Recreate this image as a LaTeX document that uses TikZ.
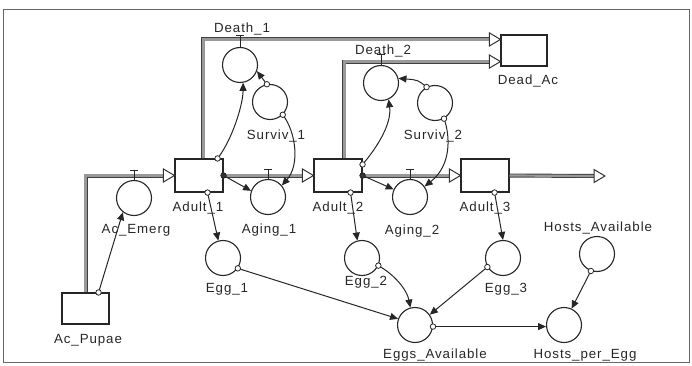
\documentclass[tikz,border=0pt]{standalone}
\usepackage{fontspec}
\setmainfont{Liberation Sans}
\usetikzlibrary{arrows.meta,calc}
\begin{document}
\begin{tikzpicture}[x=1pt,y=-1pt,
  lbl/.style={font=\fontsize{13.3}{15}\selectfont\addfontfeature{LetterSpace=7}, text=black!85, inner sep=0pt, anchor=base},
  stock/.style={draw=black!85, fill=white, line width=1.1pt, minimum width=48pt, minimum height=33pt, inner sep=0pt},
  conv/.style={circle, draw=black!85, fill=white, line width=1.1pt, minimum size=35pt, inner sep=0pt},
  pipe/.style={draw=black!75, line width=0.9pt, double=black!40, double distance=2.2pt},
  pipehead/.style={draw=black!80, line width=1pt, fill=white, line join=miter},
  info/.style={draw=black!85, line width=1pt, -{Triangle[length=8pt,width=7pt]}},
  dot/.style={circle, draw=black!85, fill=white, line width=0.8pt, inner sep=0pt, minimum size=5.5pt},
  jdot/.style={dot, fill=black!80},
  valve/.style={draw=black!85, line width=1pt},
  phead/.pic={\draw[pipehead] (0,0) -- (-11,-6.5) -- (-11,6.5) -- cycle;}
]
\useasboundingbox (0,0) rectangle (692,366);
\draw[black!60, line width=0.8pt] (3.5,9) rectangle (689,362);

% stocks
\node[stock] (adult1) at (199,175.5) {};
\node[stock] (adult2) at (338,175.5) {};
\node[stock] (adult3) at (485,175.5) {};
\node[stock, minimum width=46pt, minimum height=31pt] (dead) at (524,50.5) {};
\node[stock, minimum width=47pt, minimum height=31pt] (pupae) at (85.5,308.5) {};

% pipe end coordinates
\coordinate (deadin1) at ($(dead.north west)+(0,5)$);
\coordinate (deadin2) at ($(dead.south west)+(0,-5)$);
\coordinate (sink) at (605,176);
\coordinate (d1out) at ($(adult1.north west)+(29,0)$);
\coordinate (d2out) at ($(adult2.north west)+(31,0)$);

% pipes
\draw[pipe] (pupae.north) |- ($(adult1.west)+(-11,0)$);
\draw[pipe] (adult1.east) -- ($(adult2.west)+(-11,0)$);
\draw[pipe] (adult2.east) -- ($(adult3.west)+(-11,0)$);
\draw[pipe] (adult3.east) -- ($(sink)+(-11,0)$);
\draw[pipe] (d1out) |- ($(deadin1)+(-11,0)$);
\draw[pipe] (d2out) |- ($(deadin2)+(-11,0)$);
\pic at (adult1.west) {phead};
\pic at (adult2.west) {phead};
\pic at (adult3.west) {phead};
\pic at (sink) {phead};
\pic at (deadin1) {phead};
\pic at (deadin2) {phead};

% converters / flows
\node[conv] (death1) at (240,65) {};
\node[conv] (surviv1) at (270,102) {};
\node[conv] (death2) at (381,83) {};
\node[conv] (surviv2) at (435,103) {};
\node[conv] (emerg) at (134,198) {};
\node[conv] (aging1) at (268,197) {};
\node[conv] (aging2) at (410,197) {};
\node[conv] (egg1) at (223,258) {};
\node[conv] (egg2) at (362,258) {};
\node[conv] (egg3) at (503,258) {};
\node[conv] (hostsav) at (597,254) {};
\node[conv] (eggsav) at (415,325) {};
\node[conv] (hpe) at (564,325) {};

% valves
\foreach \v/\h in {death1/11, death2/10, emerg/9, aging1/9, aging2/9}{
  \draw[valve] (\v.north) -- ++(0,-\h) ++(-4,0) -- ++(8,0);
}

% labels
\node[lbl] at (242,33) {Death\_1};
\node[lbl] at (276,140) {Surviv\_1};
\node[lbl] at (383,55) {Death\_2};
\node[lbl] at (433,140) {Surviv\_2};
\node[lbl] at (528,85) {Dead\_Ac};
\node[lbl] at (198,211) {Adult\_1};
\node[lbl] at (338,211) {Adult\_2};
\node[lbl] at (485,211) {Adult\_3};
\node[lbl] at (136,233) {Ac\_Emerg};
\node[lbl] at (269,233) {Aging\_1};
\node[lbl] at (412,234) {Aging\_2};
\node[lbl] at (227,292) {Egg\_1};
\node[lbl] at (366,285) {Egg\_2};
\node[lbl] at (506,292) {Egg\_3};
\node[lbl] at (598,231) {Hosts\_Available};
\node[lbl] at (435,358) {Eggs\_Available};
\node[lbl] at (585,358) {Hosts\_per\_Egg};
\node[lbl] at (88,343) {Ac\_Pupae};

% information connectors
\draw[info] ($(adult1.north east)+(-6,0)$) node[dot]{} .. controls (232,140) and (243,105) .. (death1.-80);
\draw[info] (surviv1.100) node[dot]{} -- (death1.-20);
\draw[info] (surviv1.-45) node[dot]{} .. controls (296,132) and (300,165) .. (aging1.40);
\draw[info] (adult1.east) node[jdot]{} -- (aging1.160);
\draw[info] ($(adult1.south east)+(-16,0)$) node[dot]{} -- (egg1.105);
\draw[info] ($(pupae.north east)+(-11,0)$) node[dot]{} -- (emerg.-128);
\draw[info] ($(adult2.north east)+(0,6)$) node[dot]{} .. controls (375,150) and (392,125) .. (death2.-65);
\draw[info] (surviv2.118) node[dot]{} .. controls (418,80) .. (death2.15);
\draw[info] (surviv2.-60) node[dot]{} .. controls (450,135) and (452,165) .. (aging2.36);
\draw[info] (adult2.east) node[jdot]{} -- (aging2.155);
\draw[info] ($(adult2.south east)+(-12,0)$) node[dot]{} -- (egg2.105);
\draw[info] ($(adult3.south east)+(-15,0)$) node[dot]{} -- (egg3.north);
\draw[info] (egg1.-35) node[dot]{} -- (eggsav.160);
\draw[info] (egg2.-25) node[dot]{} .. controls (395,275) and (407,290) .. (eggsav.105);
\draw[info] (egg3.-150) node[dot]{} -- (eggsav.35);
\draw[info] (eggsav.-5) node[dot]{} -- (hpe.185);
\draw[info] (hostsav.-110) node[dot]{} -- (hpe.65);
\end{tikzpicture}
\end{document}
